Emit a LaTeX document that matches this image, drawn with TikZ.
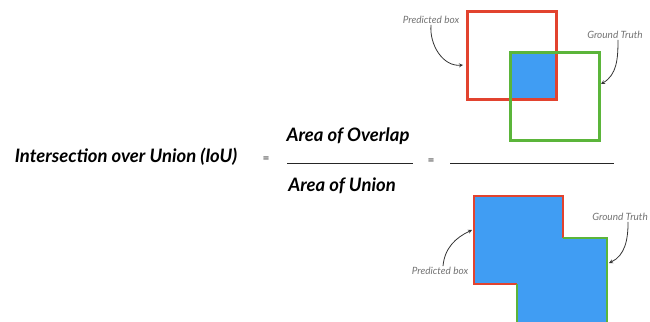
\documentclass[tikz,border=0pt]{standalone}
\usepackage{fontspec}
\setmainfont{Lato}
\usepackage{tikz}
\usetikzlibrary{arrows, positioning, calc}
\definecolor{boxred}{HTML}{E2432F}
\definecolor{boxgreen}{HTML}{5BB53A}
\definecolor{boxblue}{HTML}{409DF3}

\begin{document}
\begin{tikzpicture}[
    x=1pt, y=-1pt,
    formula/.style={font=\fontsize{18.5}{22}\selectfont\bfseries\itshape, inner sep=0pt},
    eqsign/.style={font=\fontsize{12}{14}\selectfont, text=black!85, inner sep=0pt},
    tag/.style={font=\fontsize{10}{12}\selectfont\itshape, text=black!55, inner sep=1pt},
    fracline/.style={line width=0.9pt, black!85},
    pointer/.style={->, >=stealth, thick, black!80}
]
\useasboundingbox (0,0) rectangle (650,321);

% Formula
\node[formula] (iou) at (126,157) {Intersection over Union (IoU)};
\node[eqsign] (eqa) at (266,160) {=};
\node[formula] (overlap) at (348,136) {Area of Overlap};
\node[formula] (union) at (342,186) {Area of Union};
\node[eqsign] (eqb) at (431,162) {=};
\draw[fracline] (287,163) -- (413,163);
\draw[fracline] (450,163) -- (614,163);

% Overlap picture
\fill[boxblue] (510,53) rectangle (556,99);
\draw[boxred, line width=3pt] (467,12) rectangle (556,99);
\draw[boxgreen, line width=3pt] (510,53) rectangle (599,140);

\node[tag] (predtop) at (431,20) {Predicted box};
\node[tag] (gttop) at (615,35) {Ground Truth};
\coordinate (predtophead) at (463,65);
\coordinate (gttophead) at (601,84);
\draw[pointer] (predtop.south) to[out=-95, in=185] (predtophead);
\draw[pointer] (gttop.south) ++(3,0) to[out=-90, in=30] (gttophead);

% Union picture
\fill[boxblue] (474,196) -- (563,196) -- (563,238) -- (607,238) -- (607,322)
    -- (517,322) -- (517,284) -- (474,284) -- cycle;
\draw[boxred, line width=2pt] (517,284) -- (474,284) -- (474,196) -- (563,196) -- (563,238);
\draw[boxgreen, line width=2pt] (563,238) -- (607,238) -- (607,322);
\draw[boxgreen, line width=2pt] (517,284) -- (517,322);

\node[tag] (predbot) at (440,271) {Predicted box};
\node[tag, anchor=east] (gtbot) at (649,217) {Ground Truth};
\coordinate (predbothead) at (472,230);
\coordinate (gtbothead) at (609,263);
\coordinate (gtbottail) at ($(gtbot.south)+(8,0)$);
\draw[pointer] (predbot.north) ++(3,0) to[out=85, in=205] (predbothead);
\draw[pointer] (gtbottail) to[out=-90, in=25] (gtbothead);

\end{tikzpicture}
\end{document}
